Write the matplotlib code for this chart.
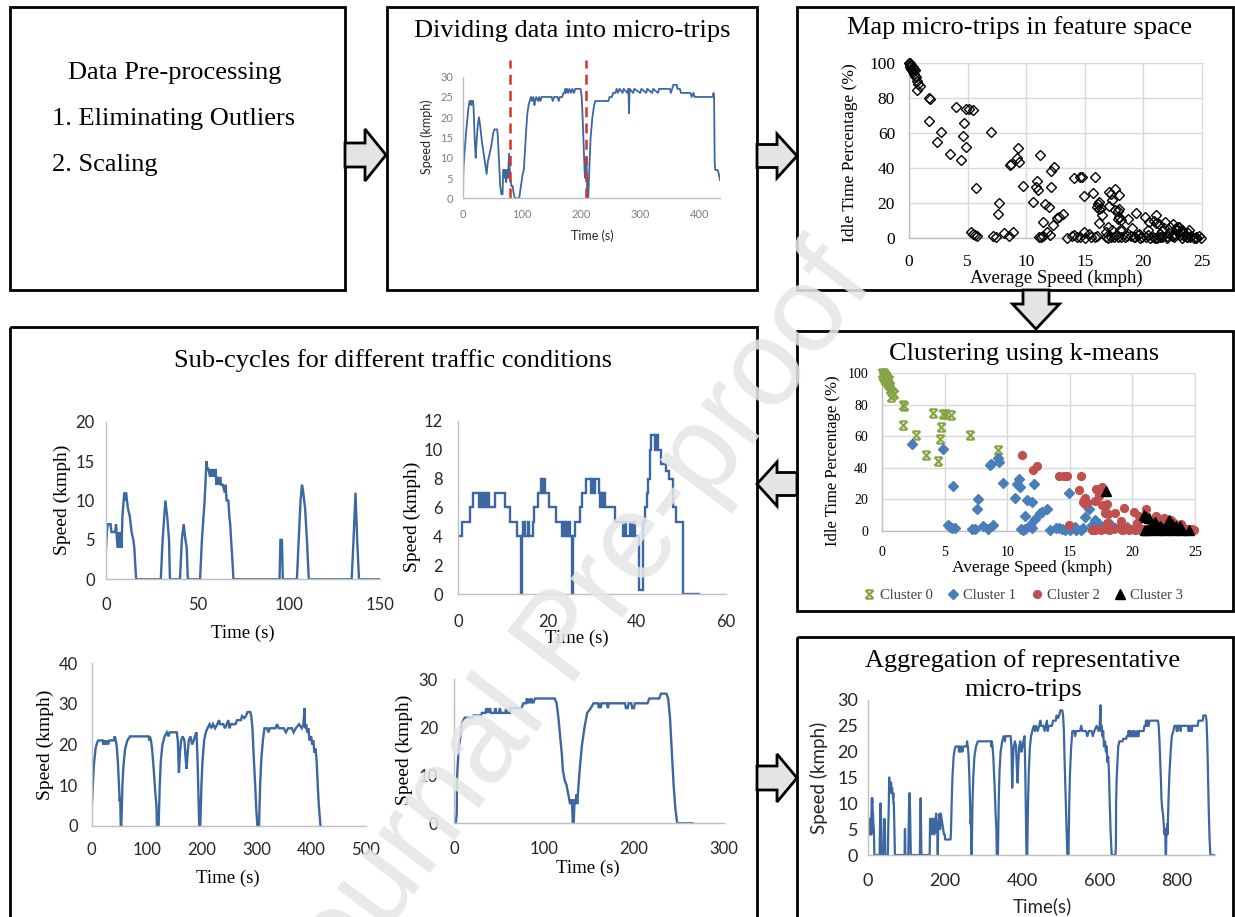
import numpy as np
import matplotlib
matplotlib.use("Agg")
import matplotlib.pyplot as plt
from matplotlib.patches import Rectangle, Polygon
from matplotlib.path import Path
from matplotlib.lines import Line2D

plt.rcParams["font.family"] = ["Liberation Serif", "DejaVu Serif"]

# ---------------------------------------------------------------- data
# recorded speed trace split into micro-trips (time s, speed kmph)
raw_trace = [(0, 0), (0.5, 6), (1, 8), (3, 12), (5, 16), (7, 19), (9, 22), (11, 24), (13, 24), (14, 23),
             (15, 24), (17, 24), (18, 22), (20, 14), (21.5, 10), (23, 14), (25, 18), (27, 20), (29, 18),
             (32, 14), (35, 11), (38, 8), (40, 6), (42, 9), (45, 11), (48, 13), (51, 16), (53, 17), (58, 17),
             (59, 15), (61, 9), (63, 3), (65, 1), (67, 1), (68, 7), (70, 7), (71, 5), (72, 7), (73, 4), (74, 6),
             (75, 7), (76, 5), (78, 11), (79, 8), (80, 5), (82, 3), (84, 3), (86, 1), (88, 0), (95, 0), (97, 2),
             (99, 4), (101, 6), (103, 7), (105, 12), (107, 17), (109, 21), (111, 23), (113, 24), (115, 25),
             (117, 24), (119, 25), (121, 23), (122, 24), (124, 25), (127, 24), (129, 25), (131, 24), (133, 25),
             (150, 25), (152, 24), (154, 25), (160, 25), (162, 24), (164, 25), (168, 25), (170, 26), (172, 26),
             (173, 27), (174, 26), (176, 27), (178, 26), (180, 27), (183, 26), (185, 27), (188, 26), (190, 27),
             (199, 27), (201, 25), (203, 18), (205, 10), (206, 6), (207, 5), (208, 8), (209, 10), (210, 3),
             (211, 0), (212, 0), (214, 8), (216, 15), (219, 20), (222, 23), (224, 24), (246, 24), (248, 25),
             (252, 25), (254, 26), (258, 26), (260, 27), (262, 26), (265, 27), (270, 26), (272, 27), (278, 26),
             (280, 27), (281, 21), (282, 27), (288, 26), (290, 27), (300, 26), (302, 27), (310, 26), (312, 27),
             (320, 26), (322, 27), (330, 26), (332, 27), (340, 27), (350, 27), (352, 26), (354, 27), (356, 28),
             (362, 28), (363, 27), (367, 27), (369, 26), (385, 26), (387, 25), (390, 26), (392, 25), (423, 25),
             (424, 26), (425, 25), (426, 9), (427, 7), (431, 7), (433, 6), (435, 4.5)]
split_times = [80, 208]

# micro-trip features: (average speed kmph, idle time %) per k-means cluster
cluster0 = [(0.0, 100), (0.05, 99), (0.1, 98), (0.12, 100), (0.18, 97), (0.2, 99), (0.25, 96), (0.3, 98),
            (0.35, 95), (0.4, 97), (0.45, 94), (0.5, 93), (0.55, 96), (0.6, 92), (0.65, 90), (0.72, 85),
            (0.8, 88), (0.92, 87), (1.7, 80), (1.78, 79.5), (1.7, 67), (2.7, 60.5), (3.5, 48), (4.05, 75),
            (4.45, 44.5), (4.65, 58.5), (4.7, 66), (4.9, 74), (5.1, 74), (5.5, 73.5), (7.0, 60.5), (9.3, 51.5)]
cluster1 = [(2.4, 55), (4.9, 52), (5.7, 28.5), (5.3, 3.5), (5.45, 2.5), (5.6, 2), (5.8, 1.5), (7.2, 1.2),
            (7.4, 0.8), (7.65, 20), (7.6, 14), (8.1, 2.8), (8.5, 1.2), (8.9, 3.5), (8.6, 42), (8.68, 42.5),
            (9.25, 46), (9.35, 43.5), (9.7, 30), (10.6, 21), (10.8, 29.5), (10.95, 33), (11.0, 27.5),
            (11.1, 1), (11.3, 0.5), (11.45, 1.2), (11.4, 9.5), (11.6, 19.5), (11.95, 18), (11.8, 3.8),
            (12.0, 1.8), (12.25, 7.5), (12.15, 29.5), (12.6, 11.5), (12.8, 12), (13.15, 14), (13.45, 0.3),
            (13.9, 1.5), (14.1, 2), (14.35, 1), (14.6, 0.5), (14.95, 24.2), (15.0, 0.3), (15.4, 2.5),
            (15.5, 0.5), (15.9, 0.5), (16.05, 1.5), (16.2, 8.5), (16.5, 13.5), (16.8, 3.5), (17.0, 6.5),
            (17.3, 4.5), (17.9, 12), (17.7, 2), (18.2, 4.5), (18.6, 1.5), (19.3, 0.8), (19.6, 2.5)]
cluster2 = [(11.2, 47.8), (12.1, 38.5), (12.4, 41), (14.1, 34.5), (14.55, 35), (14.75, 35), (14.9, 3.5),
            (15.9, 35), (15.7, 26), (16.25, 20.8), (16.05, 18), (16.2, 17), (16.4, 17.5), (16.15, 19.5),
            (17.1, 26.3), (17.25, 25.5), (17.35, 22), (17.6, 28), (17.05, 18.7), (17.6, 16.3), (17.8, 15.5),
            (17.95, 17), (17.85, 11), (18.05, 10.5), (17.2, 1), (17.5, 0.5), (17.8, 0.8), (18.0, 5),
            (18.1, 0.5), (18.4, 1), (18.65, 11), (19.35, 14.3), (19.05, 6.1), (18.9, 1.5), (19.2, 0.5),
            (19.5, 2), (19.7, 0.3), (19.9, 1), (20.1, 12), (20.5, 9.5), (20.35, 4.8), (20.2, 0.5), (20.4, 2),
            (20.6, 0.3), (20.8, 1), (21.05, 13.5), (21.4, 2.5), (21.6, 1), (21.85, 9.5), (22.0, 1.5),
            (22.3, 6.5), (22.5, 8), (22.6, 2), (22.75, 6), (23.05, 6.5), (23.3, 5), (23.5, 1.5), (23.7, 0.5),
            (23.9, 4.5), (24.1, 1.5), (24.3, 0.3), (24.5, 1), (24.75, 1.3), (24.9, 0.3), (16.8, 0.5),
            (17.0, 0.3)]
cluster3 = [(17.9, 25), (20.9, 9.8), (21.1, 9), (21.3, 8.2), (21.0, 0.4), (21.2, 0.3), (21.6, 4),
            (21.8, 5.8), (22.0, 0.3), (22.2, 3), (22.4, 1.5), (22.6, 0.5), (22.8, 4.5), (22.95, 6.5),
            (23.1, 2), (23.3, 0.3), (23.5, 3), (23.7, 1), (24.0, 0.5), (24.5, 0.4), (21.4, 1), (22.7, 2.5),
            (23.2, 4), (23.8, 3.2)]
cluster_names = ["Cluster 0", "Cluster 1", "Cluster 2", "Cluster 3"]

# representative sub-cycles (time s, speed kmph)
sub1 = [(0, 4), (0.5, 6), (1, 7), (2.5, 7), (3, 6), (5, 6), (5.5, 7), (6, 5), (6.5, 4), (7, 6), (7.5, 4),
        (8, 6), (8.5, 4), (9, 8), (10, 11), (10.5, 10), (11, 11), (11.5, 10), (12, 9), (13, 8), (14, 6),
        (15, 5), (15.5, 4), (16.5, 0), (30, 0), (31, 5), (32.5, 10), (33.5, 8), (34.5, 5), (35, 0),
        (40.5, 0), (41.5, 5), (42.5, 7), (43.5, 5), (44.2, 4), (44.8, 0), (51.5, 0), (52.5, 5), (54, 10),
        (55, 15), (55.5, 14), (56, 14), (57, 13), (57.5, 14), (58, 13), (58.5, 14), (59, 13), (60, 14),
        (60.5, 12), (61, 13), (62, 12), (62.5, 13), (63, 12), (64, 12), (65, 11), (65.5, 12), (66, 10),
        (67, 10), (67.5, 8), (68, 7), (68.5, 5), (69.8, 0), (95, 0), (95.5, 5), (96.3, 5), (96.8, 0),
        (104.5, 0), (105.5, 5), (106.5, 10), (107.3, 12), (108, 11), (109, 9), (110, 5), (111, 0),
        (134.5, 0), (135.5, 5), (136.6, 11), (137.5, 5), (138.5, 0), (150, 0)]
sub2 = [(0, 4), (0.9, 5), (2.6, 6), (3.3, 7), (4.6, 6), (4.9, 7), (5.2, 6), (5.5, 7), (5.8, 6), (6.1, 7),
        (6.4, 6), (6.7, 7), (7.0, 6), (8.3, 7), (10.5, 6), (11.6, 5), (13.1, 4), (14.2, 0), (14.4, 4),
        (14.6, 5), (15.1, 4), (15.6, 5), (15.9, 4), (16.8, 5), (17.1, 6), (17.9, 7), (18.5, 8), (18.8, 7),
        (19.1, 8), (19.4, 7), (20.4, 6), (21.9, 5), (23.3, 4), (23.6, 5), (23.9, 4), (24.2, 5), (24.5, 4),
        (24.8, 5), (25.1, 4), (25.5, 0), (25.7, 4), (26.3, 5), (27.4, 6), (27.8, 7), (28.6, 8), (29.8, 7),
        (30.1, 8), (30.4, 7), (30.7, 8), (31.5, 7), (31.8, 6), (32.1, 7), (32.4, 6), (32.7, 7), (33.0, 6),
        (35.2, 5), (37.0, 4), (37.3, 5), (37.6, 4), (38.6, 5), (38.9, 4), (39.3, 5), (39.6, 4), (40.6, 0.3),
        (41.4, 5), (41.9, 6), (42.3, 7), (42.6, 8), (43.0, 10), (43.3, 11), (44.2, 10), (44.4, 11),
        (44.7, 10), (45.4, 9), (46.6, 8.5), (47.2, 8), (48.1, 6), (48.9, 5), (50.3, 0), (54, 0)]
sub3 = [(0, 4), (2, 10), (4, 15), (7, 19), (10, 20.5), (12, 21), (20, 21), (21, 20), (23, 21), (25, 20),
        (27, 21), (30, 20), (32, 21), (40, 21), (42, 22), (44, 21), (46, 19), (48, 15), (50, 9), (51, 6),
        (52, 7), (53, 0), (54, 0), (56, 10), (58, 15), (61, 19), (65, 21), (70, 22), (104, 22), (105, 21),
        (106, 22), (108, 21), (110, 19), (113, 14), (116, 8), (118, 5), (119, 0), (122, 0), (124, 10),
        (126, 16), (129, 20), (133, 22), (137, 23), (140, 22), (142, 23), (155, 23), (157, 21), (159, 13),
        (161, 18), (163, 21), (166, 22), (169, 21), (171, 17), (173, 14), (175, 18), (177, 21), (180, 22),
        (183, 20), (186, 21), (188, 22), (191, 23), (193, 16), (195, 6), (196, 0), (198, 0), (200, 10),
        (202, 16), (205, 21), (208, 23), (211, 24), (215, 25), (218, 24), (221, 25), (225, 24), (229, 25),
        (232, 26), (234, 25), (240, 25), (243, 24), (246, 25), (249, 26), (251, 24), (254, 25), (262, 25),
        (265, 26), (272, 26), (274, 27), (278, 26.5), (281, 27), (284, 28), (289, 28), (291, 27), (293, 24),
        (295, 18), (298, 10), (300, 4), (302, 0), (305, 0), (307, 10), (309, 16), (312, 21), (315, 24),
        (320, 24), (322, 23), (325, 24), (335, 24), (338, 25), (341, 24), (350, 24), (354, 23), (358, 24),
        (365, 24), (368, 23), (372, 24), (378, 25), (383, 24), (386, 25), (388, 29), (389, 24), (391, 25),
        (393, 23), (395, 24), (397, 21), (400, 22), (402, 20), (404, 21), (406, 18), (408, 19), (410, 16),
        (412, 10), (414, 5), (417, 0)]
sub4 = [(0, 0), (2, 0), (3, 2), (3.5, 10), (5, 15), (7, 18), (9, 21), (12, 22), (20, 22), (22, 22.5),
        (30, 22.5), (31, 23), (35, 23), (36, 24), (37, 23), (38, 24), (39, 23), (40, 24), (41, 23), (45, 23),
        (46, 24), (47, 23), (50, 23), (51, 24), (52, 23), (57, 23), (58, 24), (59, 23), (62, 23), (63, 24),
        (75, 24), (77, 25), (80, 25), (81, 26), (82, 25), (84, 26), (85, 25), (86, 26), (88, 25), (90, 26),
        (112, 26), (114, 25), (116, 22), (118, 18), (120, 14), (121, 11), (122, 10), (123, 9), (125, 8),
        (127, 6), (128, 5), (129, 4), (131, 5), (132, 0), (133, 0), (134, 5), (135, 4), (136, 6), (137, 4),
        (138, 7), (140, 12), (142, 16), (145, 20), (148, 23), (152, 24), (155, 25), (160, 25), (161, 24),
        (162, 25), (163, 24), (164, 25), (170, 25), (171, 24), (172, 25), (190, 25), (191, 24), (193, 24),
        (194, 25), (197, 25), (198, 24), (200, 24), (201, 25), (215, 25), (217, 26), (228, 26), (230, 27),
        (236, 27), (238, 26), (240, 22), (242, 15), (244, 8), (246, 3), (248, 0), (265, 0)]

# short low-speed stretch that links the first and third sub-cycles in the final cycle
link_segment = [(160, 0), (161, 7), (163, 6), (164, 7), (165, 4), (166, 7), (168, 5), (170, 7), (172, 4),
                (173, 5), (175, 7), (177, 8), (178, 5), (180, 4), (181, 0), (182, 5), (184, 7), (186, 8),
                (187, 5), (189, 8), (191, 7), (193, 6), (195, 5), (197, 4), (199, 4), (200, 3), (214, 3)]
sub3_start = 215
sub4_start = 640

# ---------------------------------------------------------------- layout helpers
W, H = 1235, 917
fig = plt.figure(figsize=(W / 100, H / 100), dpi=100)
fig.patch.set_facecolor("white")

bg = fig.add_axes([0, 0, 1, 1])
bg.set_xlim(0, W)
bg.set_ylim(H, 0)
bg.axis("off")

SERIF = ["Liberation Serif", "DejaVu Serif"]
SANS = ["Lato", "DejaVu Sans"]
BLUE = "#3c67a1"
AXIS_GREY = "#bfbfbf"
TITLE = 19


def add_ax(left, top, right, bottom):
    ax = fig.add_axes([left / W, 1 - bottom / H, (right - left) / W, (bottom - top) / H])
    ax.patch.set_alpha(0)
    return ax


def excel_axes(ax, family, size, color, xpad, ypad):
    for s in ("top", "right"):
        ax.spines[s].set_visible(False)
    for s in ("left", "bottom"):
        ax.spines[s].set_color(AXIS_GREY)
        ax.spines[s].set_linewidth(1.0)
    ax.tick_params(length=0, labelsize=size, labelcolor=color)
    ax.tick_params(axis="x", pad=xpad)
    ax.tick_params(axis="y", pad=ypad)
    for lab in ax.get_xticklabels() + ax.get_yticklabels():
        lab.set_family(family)


def text(x, y, s, size, family=SERIF, **kw):
    kw.setdefault("ha", "center")
    kw.setdefault("va", "center")
    bg.text(x, y, s, fontsize=size, family=family, **kw)


def split(pairs):
    return [p[0] for p in pairs], [p[1] for p in pairs]


# ---------------------------------------------------------------- boxes & arrows
boxes = [(10, 7, 345, 290), (387, 7, 757, 290), (797, 7, 1233, 290),
         (797, 331, 1233, 611), (10, 327, 757, 930), (797, 637, 1233, 930)]
for x0, y0, x1, y1 in boxes:
    bg.add_patch(Rectangle((x0, y0), x1 - x0, y1 - y0, fill=False, lw=2.0, ec="black", zorder=1))


def h_arrow(x0, xm, x1, yc, bh, hh):
    return [(x0, yc - bh), (xm, yc - bh), (xm, yc - hh), (x1, yc), (xm, yc + hh), (xm, yc + bh), (x0, yc + bh)]


def v_arrow(y0, ym, y1, xc, bh, hh):
    return [(xc - bh, y0), (xc - bh, ym), (xc - hh, ym), (xc, y1), (xc + hh, ym), (xc + bh, ym), (xc + bh, y0)]


arrows = [h_arrow(345, 365, 386, 155, 12, 26),
          h_arrow(757, 777, 797, 156, 11.5, 22),
          v_arrow(290, 304, 329, 1036, 13, 23.5),
          h_arrow(797, 777, 757, 484, 11.5, 22),
          h_arrow(757, 777, 797, 778, 12, 24)]
for verts in arrows:
    bg.add_patch(Polygon(verts, closed=True, fc="#e4e4e4", ec="black", lw=2.0, joinstyle="miter", zorder=2))

# ---------------------------------------------------------------- box A: text
text(175, 73, "Data Pre-processing", TITLE)
text(52, 119, "1. Eliminating Outliers", TITLE, ha="left")
text(52, 165, "2. Scaling", TITLE, ha="left")

# ---------------------------------------------------------------- box B: trace with split points
text(572, 31, "Dividing data into micro-trips", TITLE)
axb = add_ax(463, 76.7, 720, 198.3)
bt, bv = split(raw_trace)
axb.plot(bt, bv, color=BLUE, lw=1.3)
for ts in split_times:
    axb.plot([ts, ts], [0, 34], color="#d9302c", lw=1.8, ls=(0, (4, 2.5)), clip_on=False)
axb.set_xlim(0, 435)
axb.set_ylim(0, 30)
axb.set_xticks([0, 100, 200, 300, 400])
axb.set_yticks([0, 5, 10, 15, 20, 25, 30])
excel_axes(axb, SANS, 8, "#7f7f7f", 8, 7)
text(427, 137, "Speed (kmph)", 9, family=SANS, rotation=90, color="#262626")
text(592, 236, "Time (s)", 9, family=SANS, color="#262626")

# ---------------------------------------------------------------- box C: feature space
all_pts = cluster0 + cluster1 + cluster2 + cluster3
cx, cy = split(all_pts)
text(1020, 28, "Map micro-trips in feature space", TITLE)
axc = add_ax(909, 63.3, 1202, 238.3)
axc.plot(cx, cy, ls="none", marker="D", ms=5.2, mfc="none", mec="black", mew=1.0, clip_on=False, zorder=3)
axc.set_xlim(0, 25)
axc.set_ylim(0, 100)
axc.set_xticks([0, 5, 10, 15, 20, 25])
axc.set_yticks([0, 20, 40, 60, 80, 100])
axc.grid(color="#d9d9d9", lw=1.0)
excel_axes(axc, SERIF, 12.5, "black", 11, 10)
for s in ("top", "right"):
    axc.spines[s].set_visible(True)
    axc.spines[s].set_color("#d9d9d9")
text(850, 153, "Idle Time Percentage (%)", 12.5, rotation=90)
text(1056, 278, "Average Speed (kmph)", 13.5)

# ---------------------------------------------------------------- box D: clustering
text(1024, 354, "Clustering using k-means", TITLE)
axd = add_ax(882, 373.3, 1195, 530.7)
star = Path([(-1, -1), (1, 1), (-1, 1), (1, -1), (-0.8, 1), (0.8, 1), (-0.8, -1), (0.8, -1)],
            [Path.MOVETO, Path.LINETO] * 4)
styles = [dict(marker=star, ms=6, mfc="none", mec="#86a443", mew=1.5),
          dict(marker="D", ms=5.2, color="#4a7ebb", mec="#4a7ebb"),
          dict(marker="o", ms=5.6, color="#c0504d", mec="#c0504d"),
          dict(marker="^", ms=7, color="black", mec="black")]
for pts, st in zip([cluster0, cluster1, cluster2, cluster3], styles):
    x, y = split(pts)
    axd.plot(x, y, ls="none", clip_on=False, zorder=3, **st)
axd.set_xlim(0, 25)
axd.set_ylim(0, 100)
axd.set_xticks([0, 5, 10, 15, 20, 25])
axd.set_yticks([0, 20, 40, 60, 80, 100])
axd.grid(color="#d9d9d9", lw=1.0)
excel_axes(axd, SERIF, 10, "black", 11, 10)
for s in ("top", "right"):
    axd.spines[s].set_visible(True)
    axd.spines[s].set_color("#d9d9d9")
text(833, 461, "Idle Time Percentage (%)", 12, rotation=90)
text(1032, 568, "Average Speed (kmph)", 12.5)
handles = [Line2D([], [], ls="none", **st) for st in styles]
fig.legend(handles, cluster_names, loc="center", bbox_to_anchor=(1022 / W, 1 - 595 / H),
           ncol=4, frameon=False, handletextpad=0.1, columnspacing=0.8, handlelength=1.2,
           prop={"family": SERIF, "size": 10.5}, labelcolor="#404040")

# ---------------------------------------------------------------- box E: sub-cycles
text(393, 361, "Sub-cycles for different traffic conditions", TITLE)
sub_specs = [
    (sub1, (106, 421.7, 380, 579.3), (0, 150), [0, 50, 100, 150], (0, 20), [0, 5, 10, 15, 20], 13, 8,
     (62, 500), (243, 633), "-"),
    (sub2, (458, 420.7, 726, 594.3), (0, 60), [0, 20, 40, 60], (0, 12), [0, 2, 4, 6, 8, 10, 12], 14, 11,
     (412, 517), (577, 638), "steps-post"),
    (sub3, (91.7, 663.3, 366, 825.7), (0, 500), [0, 100, 200, 300, 400, 500], (0, 40), [0, 10, 20, 30, 40],
     12, 10, (45, 745), (228, 878), "-"),
    (sub4, (454, 679.3, 724, 823.3), (0, 300), [0, 100, 200, 300], (0, 30), [0, 10, 20, 30], 13, 11.5,
     (404, 750), (588, 868), "-"),
]
for pts, box, xl, xt, yl, yt, xpad, ypad, ylab, xlab, ds in sub_specs:
    ax = add_ax(*box)
    t, v = split(pts)
    ax.plot(t, v, color=BLUE, lw=1.7, drawstyle=("steps-post" if ds == "steps-post" else "default"),
            solid_joinstyle="miter")
    ax.set_xlim(*xl)
    ax.set_ylim(*yl)
    ax.set_xticks(xt)
    ax.set_yticks(yt)
    excel_axes(ax, SANS, 12, "#262626", xpad, ypad)
    text(ylab[0], ylab[1], "Speed (kmph)", 14, rotation=90)
    text(xlab[0], xlab[1], "Time (s)", 13.5)

# ---------------------------------------------------------------- box F: aggregated cycle
t1, v1 = split(sub1)
tl, vl = split(link_segment)
t3, v3 = split(sub3)
t4, v4 = split(sub4)
agg_t = t1 + tl + [t + sub3_start for t in t3] + [t + sub4_start for t in t4]
agg_v = v1 + vl + v3 + v4

text(1023, 661, "Aggregation of representative", TITLE)
text(1023, 690, "micro-trips", TITLE)
axf = add_ax(868, 700, 1215, 855)
axf.plot(agg_t, agg_v, color=BLUE, lw=1.6)
axf.set_xlim(0, 900)
axf.set_ylim(0, 30)
axf.set_xticks([0, 200, 400, 600, 800])
axf.set_yticks([0, 5, 10, 15, 20, 25, 30])
excel_axes(axf, SANS, 13, "#262626", 13, 7)
text(819, 778, "Speed (kmph)", 13.5, family=SANS, rotation=90, color="#262626")
text(1042, 906, "Time(s)", 13.5, family=SANS, color="#262626")

# ---------------------------------------------------------------- watermark
fig.text(566 / W, 1 - 640 / H, "Journal Pre-proof", fontsize=88, family=["Liberation Sans", "DejaVu Sans"],
         color="#e6e6e6", alpha=0.88, rotation=53, ha="center", va="center", zorder=100)

fig.savefig("out.png", dpi=100, facecolor="white")
